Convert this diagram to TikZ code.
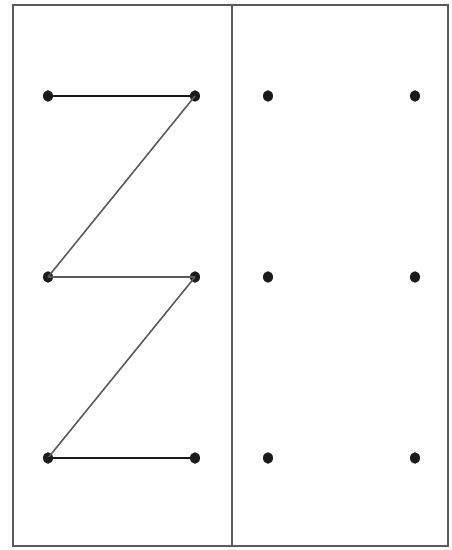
\documentclass[tikz,border=0pt]{standalone}
\usepackage{tikz}
\usetikzlibrary{positioning,calc}
\definecolor{ink}{HTML}{1A1A1A}
\definecolor{slate}{HTML}{5A5A5A}

\begin{document}
\begin{tikzpicture}[x=0.02cm,y=-0.02cm,
    dot/.style={circle, fill=ink, inner sep=0pt, minimum width=0.2cm, minimum height=0.2cm, yscale=1.15},
    link/.style={draw=ink, line width=0.9pt},
    slant/.style={draw=slate, line width=0.9pt}]
  \useasboundingbox (0,0) rectangle (451,550);
  % frame and divider
  \draw[line width=1pt, draw=slate] (13,5) rectangle (448,546);
  \draw[line width=1pt, draw=slate] (232,5) -- (232,546);
  % left panel
  \node[dot] (a1) at (48,96) {};
  \node[dot] (b1) at (195,96) {};
  \node[dot] (a2) at (48,277) {};
  \node[dot] (b2) at (195,277) {};
  \node[dot] (a3) at (48,458) {};
  \node[dot] (b3) at (195,458) {};
  % right panel
  \node[dot] (c1) at (268,96) {};
  \node[dot] (d1) at (415,96) {};
  \node[dot] (c2) at (268,277) {};
  \node[dot] (d2) at (415,277) {};
  \node[dot] (c3) at (268,458) {};
  \node[dot] (d3) at (415,458) {};
  % zigzag
  \draw[link] (a1.center) -- (b1.center);
  \draw[slant] (b1.center) -- (a2.center);
  \draw[slant] (a2.center) -- (b2.center);
  \draw[slant] (b2.center) -- (a3.center);
  \draw[link] (a3.center) -- (b3.center);
\end{tikzpicture}
\end{document}
